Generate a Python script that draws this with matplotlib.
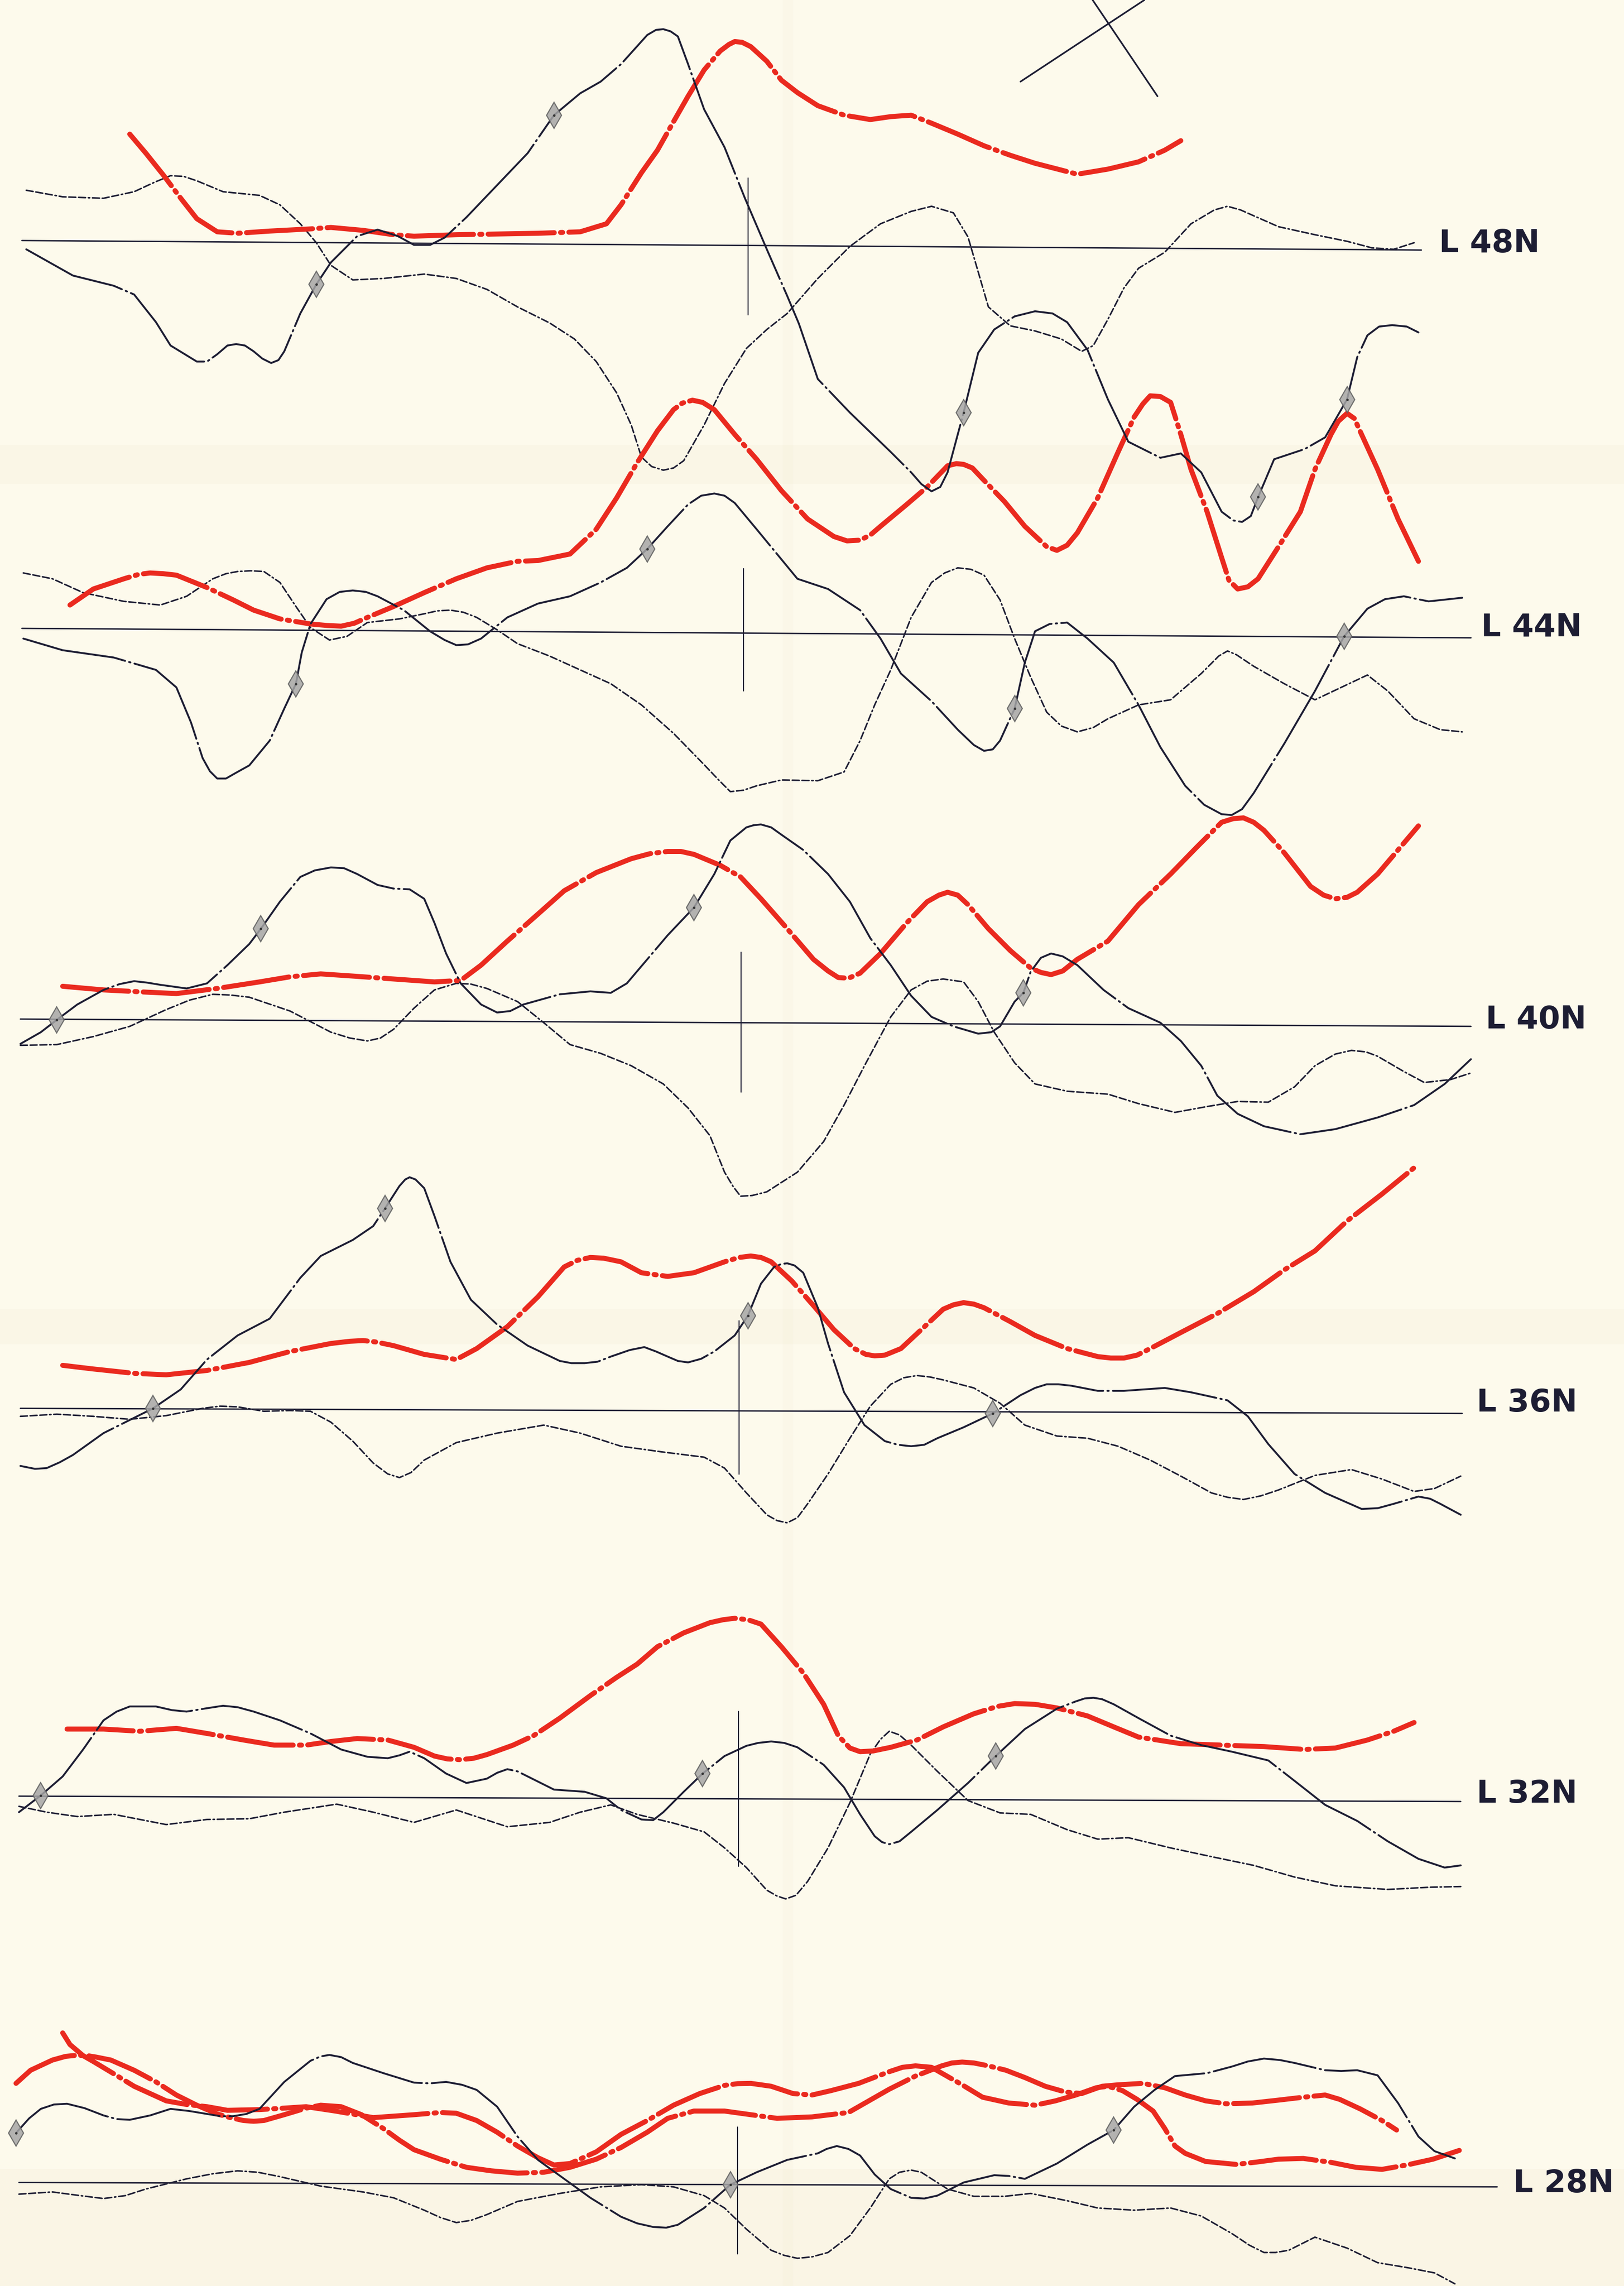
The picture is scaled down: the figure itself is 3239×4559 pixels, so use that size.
import numpy as np
import matplotlib
matplotlib.use("Agg")
import matplotlib.pyplot as plt

plt.rcParams['lines.scale_dashes'] = False
plt.rcParams['lines.dash_capstyle'] = 'round'
plt.rcParams['lines.solid_capstyle'] = 'round'
plt.rcParams['lines.solid_joinstyle'] = 'round'
plt.rcParams['lines.dash_joinstyle'] = 'round'

# ---------------- DATA (x along profile, v = deflection from zero line) ----------------
labels = ['L 48N', 'L 44N', 'L 40N', 'L 36N', 'L 32N', 'L 28N']

# L 48N
l48_solid_x = [18,50,78,92,107,117,135,142,149,156,162,168,174,180,186,191,195,206,217,227,245,259,273,284,295,305,320,341,362,380,398,412,426,444,450,455,460,465,472,483,497,511,526,540,548,561,583,611,625,632,639,645,650,661,671,682,696,710,722,732,746,760,774,796,810,824,838,846,852,858,863,874,895,909,924,931,938,946,955,965,973]
l48_solid_v = [-6,-24,-31,-37,-56,-72,-83,-83,-78,-72,-71,-72,-76,-81,-84,-82,-76,-50,-30,-15,3,7.5,3,-3,-3,2,16,38,60,86,101,109,121,141,144.5,145,143.5,140,121,90,64,29,-6,-38,-57,-95,-118,-145,-159,-167,-172,-169,-159,-118,-77,-61,-52,-48.5,-50,-56,-75,-109,-138,-149,-146,-159,-186,-192,-193,-189,-176,-150,-143,-135,-109,-80,-65,-59,-58,-59,-63]
l48_dash_x = [18,43,71,92,106,117,126,135,153,178,192,206,217,227,242,263,291,313,334,355,377,394,409,423,433,440,447,455,462,469,483,497,512,526,540,561,583,604,625,639,654,664,671,678,693,710,728,742,750,760,771,781,799,817,833,842,851,860,877,902,924,941,956,970]
l48_dash_v = [34.5,30,29,33.5,40,44.5,44,41,33.5,31,24.5,11.5,-1.5,-17,-27,-26,-23,-26,-33.5,-45.5,-56.5,-67.5,-83,-104.5,-126.5,-148.5,-155,-157.5,-156,-151,-126.5,-98,-74,-61,-50,-26,-4,11.5,20,23.5,19,2.5,-21.5,-45.5,-58.5,-62,-67.5,-76,-72,-54,-32.5,-19,-8,11.5,21,23.5,21,17,9.5,4,-0.5,-5,-6,-1.5]
l48_red_x = [89,100,112,124,135,149,163,185,213,227,249,270,284,313,341,369,398,416,426,440,451,462,472,483,494,500,504,509,515,526,536,547,561,579,597,611,625,639,657,675,693,710,739,760,781,799,810]
l48_red_v = [73,60,45,29,15,6,5,6.5,8,9,7,4,3,4,4.5,5,6,11.5,24.5,46.5,62,81.5,99,117,130,134.5,136.5,136,133,123,110,101.5,92.5,86,83,85,86,80.5,73,65,58.5,53,45.5,49,54,62,68.5]
l48_marks_x = [217,380,661,863,924]

# L 44N
l44_solid_x = [16,43,78,107,121,131,139,144,149,155,162,171,185,195,203,207,213,224,233,242,251,259,277,295,305,313,321,330,348,369,391,412,430,444,458,472,481,490,497,504,519,533,547,568,590,604,618,639,657,668,675,681,686,696,703,710,720,732,746,764,781,796,813,826,838,845,852,860,881,902,922,938,950,963,980,1003]
l44_solid_v = [-7,-15,-20,-28.5,-40.5,-64.5,-89,-98,-103,-103,-99,-94,-77,-55,-38,-16.5,3,20,25,26,25,22,12.5,-2,-8,-11.5,-11,-7,7.5,17,22,31.5,41.5,54.5,70,85,91,92.5,91,86,68,51,34,27,12.5,-7,-31,-50,-69.5,-80,-84,-83,-77,-55,-23.5,-2,3,4,-7,-23.5,-52.5,-81.5,-108,-121,-127.5,-128,-124,-113,-79,-43,-5.5,13.5,20,22,18.5,21]
l44_dash_x = [16,36,57,85,110,128,146,155,163,172,181,192,203,213,226,238,252,274,291,300,309,318,327,341,355,377,398,419,440,462,483,493,501,510,519,536,561,579,590,600,611,625,639,648,657,666,675,686,696,707,718,728,739,750,760,781,803,824,836,842,848,860,881,902,920,938,952,970,988,1003]
l44_dash_v = [38,34,24.5,18.5,16,22,34,37.5,39,39.5,39,31.5,15,0.5,-8,-5.5,4,6.5,10,12,12.5,11,7.5,-1,-10.5,-19,-28.5,-38,-52.5,-72,-93.5,-104,-112,-111,-108,-104,-104.5,-98.5,-77,-52.5,-28.5,7.5,31.5,38,41.5,40.5,36.5,19.5,-7,-33.5,-57.5,-67,-71,-68,-62,-52.5,-49,-31,-19,-15.5,-18,-26,-38,-49,-40.5,-32,-43,-62,-69.5,-71]
l44_red_x = [48,64,85,95,103,112,121,142,160,174,192,213,224,234,243,252,270,291,313,334,355,369,391,409,423,437,451,462,468,475,482,490,504,519,536,554,572,581,590,597,604,622,636,650,656,661,667,675,689,703,718,725,732,739,753,767,778,784,789,796,803,810,817,828,838,843,849,856,863,877,892,902,913,918,924,929,934,945,959,973]
l44_red_v = [16,27,34,37,38,37.5,36.5,28,19.5,12.5,6.5,3,2,1.5,3.5,7.5,15,24.5,34,41.5,46,46.5,51,68,89.5,113.5,135.5,150,154.5,156.5,155,150,133,116,94.5,75,63,60,60.5,64,70,85,97,111.5,113,112.5,110,101.5,87,70,56,53.5,57,65.5,89.5,121,145,154,159.5,159,155,133,109,80,48.5,33,27,28.5,34,56,80,109,133,142,147.5,144,133,109,75,46]
l44_marks_x = [203,444,696,922]

# L 40N
l40_solid_x = [14,28,39,53,71,82,92,101,110,128,142,156,171,179,192,206,216,227,236,245,259,270,281,291,298,306,316,330,341,350,359,384,405,419,430,444,458,476,490,501,512,517,522,529,536,551,568,583,597,611,625,639,654,671,680,686,696,702,707,714,721,729,739,757,774,796,810,824,835,849,867,892,916,945,970,991,1009]
l40_solid_v = [-17,-9,-0.5,10,20,24,26,25,23.5,21,24.5,37,51.5,62,80.5,97.5,102,104,103.5,99.5,92,89.5,89,82.5,66,45,24.5,10,4.5,5.5,10,17,19,18,24.5,41,57.5,76.5,99.5,122.5,131.5,133,133.5,131.5,126.5,116,99.5,80.5,55.5,37,16,1.5,-5,-10,-9,-5,12,18,32.5,42,45,43,37,20,7.5,-2.5,-15,-32,-52.5,-65,-73.5,-79,-75.5,-67.5,-59,-44.5,-27.5]
l40_dash_x = [14,39,64,89,114,130,146,158,171,199,227,240,252,261,270,284,298,313,323,334,355,373,391,412,433,455,472,487,497,503,508,516,526,547,565,579,593,611,625,636,647,661,671,682,696,710,732,760,781,806,828,849,870,888,902,916,927,937,945,963,977,995,1009]
l40_dash_v = [-18,-17.5,-12,-5,6.5,13,17,16.5,15,5.5,-9,-13,-15,-13,-7,7.5,20,24.5,24,21,12,-2.5,-17.5,-23.5,-32,-44.5,-61,-80,-105,-115,-121.5,-121,-118.5,-105,-84,-59,-32,1.5,20,26,27.5,25.5,12,-9,-30,-44.5,-49.5,-51.5,-58,-64,-60,-56.5,-57,-46.5,-32,-24,-21.5,-22.5,-25.5,-36,-43.5,-41.5,-37]
l40_red_x = [43,71,100,121,149,178,199,220,242,270,298,316,330,348,369,387,409,433,446,458,467,476,494,508,522,540,558,568,575,582,590,604,622,636,644,650,657,664,678,693,707,714,721,729,739,760,781,803,821,838,846,853,860,867,881,899,908,916,924,931,945,959,973]
l40_red_v = [22.5,20,18.5,17.5,21,25.5,29,31,29.5,27.5,25.5,26.5,37,53.5,72,88,100.5,110,113.5,115,115,113,105.5,97.5,82.5,62,41,33,28.5,28,31.5,45,66,80.5,85,87,85,78.5,62,47,35,32,30.5,33,41,53.5,78.5,99.5,118,135,137.5,138,135,129.5,114,91,85,82.5,83.5,87,99.5,116,132.5]
l40_marks_x = [39,179,476,702]

# L 36N
l36_solid_x = [14,24,32,41,50,71,92,105,124,142,163,185,206,220,242,256,264,274,278,281,285,291,298,309,323,341,362,384,392,401,410,419,432,442,450,458,465,472,481,490,504,513,522,531,536,540,545,551,561,568,579,593,607,616,625,634,643,661,681,700,710,718,726,735,753,771,785,799,817,842,856,870,888,909,934,945,956,973,981,988,1002]
l36_solid_v = [-39.5,-41.5,-41,-37,-32,-17,-6.5,0,13,33.5,50,61.5,89.5,104.5,115.5,125,137,152.5,157,158.5,157,151,132,100.5,74.5,57.5,43,32.5,31,31,32,35.5,40,42,39,35.5,32.5,31.5,34,39,50,63.5,85.5,97,99,99.5,98,93,69,44.5,11,-11.5,-22.5,-25,-26,-25,-20.5,-13,-3.5,9,14,16.5,16.5,15.5,12,12,13,14,11,5.5,-5.5,-24.5,-45,-58,-69,-68.5,-65.5,-60.5,-62,-65.5,-73]
l36_dash_x = [14,39,64,89,114,139,151,163,181,199,213,227,242,256,266,274,282,291,313,341,373,398,426,455,483,497,512,526,533,540,547,554,568,583,597,611,620,629,638,647,668,686,703,725,746,767,789,810,831,842,853,865,877,902,927,948,970,984,1002]
l36_dash_v = [-5.5,-4,-5.5,-7.5,-5,0,1.5,1,-2,-1.5,-2,-9.5,-22.5,-37.5,-45,-47.5,-44,-35.5,-23.5,-17,-11.5,-17,-26,-30,-33.5,-41,-58,-73,-77,-78.5,-75,-65.5,-45,-20.5,1.5,16.5,21,22.5,21.5,19.5,14,3.5,-11.5,-19,-20.5,-26,-35.5,-46.5,-58,-61,-62.5,-60,-56,-46,-42,-48.5,-57,-55,-46.5]
l36_red_x = [43,64,92,114,142,171,199,227,240,249,258,270,291,313,327,348,369,387,396,405,414,426,440,458,476,497,507,515,522,529,543,558,572,586,594,600,607,618,632,647,654,661,668,675,693,710,732,753,762,771,780,789,810,835,860,881,902,924,948,970]
l36_red_v = [29.5,27,24,23,26,31.5,39,44.5,46,46.5,45.5,43,37,33.5,41,56,76.5,97,101.5,103.5,103,100.5,93,90.5,93,100.5,103.5,104.5,103.5,100.5,87.5,70.5,54,41,37,36,36.5,41,54,68,71,72.5,71.5,69,59.5,50,41,35.5,34.5,34.5,36.5,41,52,65,80,95,108,128.5,147,165]
l36_marks_x = [105,264,513,681]

# L 32N
l32_solid_x = [13,28,43,57,71,80,89,107,118,128,140,153,163,174,192,213,234,252,266,274,281,291,306,320,334,341,348,355,362,380,401,416,426,440,448,455,469,482,497,512,520,529,538,547,565,579,590,600,605,610,617,625,643,664,683,703,725,738,744,750,756,764,781,803,824,845,870,888,909,931,952,973,991,1002]
l32_solid_v = [-11,0.5,13.5,32,52,58,61.5,61.5,59,58,60,62,61,58,52,43,32,27,26,28,30.5,26,15.5,9,12,16,18.5,17,13.5,4.5,3,-1.5,-9.5,-16,-16.5,-11,3,15.5,27.5,34.5,36.5,37.5,36.5,33.5,21.5,6,-12.5,-27.5,-31.5,-33,-31,-24.5,-9.5,9,27.5,46,60,65,67,67.5,66.5,63,53.5,41.5,35,30.5,24.5,10.5,-6,-17,-31,-43,-49,-47.5]
l32_dash_x = [13,32,53,78,114,142,171,195,231,256,284,313,348,377,398,419,437,462,483,497,512,526,533,539,546,554,568,583,597,604,610,617,625,643,664,686,707,732,753,774,803,831,860,888,916,952,980,1002]
l32_dash_v = [-7,-11,-14,-12.5,-19.5,-16,-15.5,-11,-5.5,-11,-18,-9.5,-21,-18,-11,-6,-12.5,-18.5,-24.5,-35.5,-49,-64.5,-68.5,-70.5,-68,-58.5,-35.5,-4.5,29,39,44.5,42,35,17,-3,-11.5,-12.5,-23,-29.5,-28.5,-35.5,-41.5,-47.5,-55.5,-61.5,-64,-62.5,-62]
l32_red_x = [46,71,96,121,142,167,188,210,227,245,266,284,298,307,316,325,334,352,366,384,405,423,437,451,469,487,496,504,513,522,536,551,565,575,583,590,599,611,629,647,668,684,696,710,725,746,764,781,810,838,867,895,916,938,956,970]
l32_red_v = [46,46,44.5,46.5,43,38.5,35,35,37.5,39.5,38.5,33.5,27.5,25.5,25,26,28.5,35,41.5,53.5,69,81.5,90.5,102.5,112,119,121,122,121,118,102.5,84.5,63,41.5,33,30.5,31,33.5,38.5,47.5,56.5,61.5,63.5,63,60.5,55,47.5,40.5,36,35,34,32,33,38.5,44.5,50.5]
l32_marks_x = [28,482,683]

# L 28N
l28_solid_x = [11,20,28,37,46,58,71,80,89,103,117,130,142,151,160,169,178,195,213,220,226,234,242,263,284,295,306,317,327,341,355,369,387,405,426,437,448,457,465,483,501,519,540,561,567,574,582,590,600,611,625,634,643,661,682,692,703,725,746,764,778,792,806,828,845,856,867,878,888,909,920,931,945,959,973,984,998]
l28_solid_v = [34,44,50.5,53.5,54,51,46,43.5,43,46,50.5,49,47,45.5,45.5,47,50.5,69,83.5,86.5,87.5,86,82,75,68.5,68,69,67,63.5,52,31.5,15.5,2.5,-10.5,-23.5,-28,-30.5,-31,-29,-17.5,-1.5,7,15.5,20,23,25,23,18.5,5.5,-4.5,-10.5,-11,-9,0,5,4.5,2.5,13,26,36,52,63.5,73,75,79.5,83,85,84,82,77,76.5,77,73.5,54.5,31.5,21.5,16.5]
l28_dash_x = [13,36,55,71,86,100,128,146,163,177,192,220,249,270,291,302,313,323,334,355,384,412,440,462,483,497,512,529,538,547,557,568,583,597,610,617,625,632,639,650,668,689,707,732,753,778,803,824,845,857,867,875,884,902,924,945,966,984,998]
l28_dash_v = [-8,-6.5,-9,-11,-9,-4.5,2.5,6,8,7,4,-2.5,-6.5,-10.5,-19,-24,-27.5,-26,-22,-13,-7.5,-3,-1.5,-3,-9,-17.5,-32,-46.5,-50,-52,-51,-48,-36.5,-17.5,2.5,7,8.5,7,2.5,-4.5,-9.5,-9.5,-7.5,-12.5,-17.5,-19,-17.5,-23,-35,-43,-48,-48,-46.5,-37.5,-45,-55,-58.5,-62,-69.5]
l28_redA_x = [11,21,36,45,53,60,66,76,92,107,121,135,149,158,167,174,181,195,210,220,234,248,263,274,284,302,320,337,355,373,391,409,426,444,458,476,497,515,533,557,582,596,610,628,646,653,660,668,678,690,703,717,731,742,756,767,784,799,813,827,841,859,877,894,909,919,933,948,958]
l28_redA_v = [68,77,84,86.5,87.3,87,86,84,77,69,60,53,47,44.5,42.5,42,42.5,46.5,51,53,52,46.5,37,29,22.5,16,10.4,8,6.4,7,10.4,16,24,34.5,44,49,49,46.5,44,45,48,56,64,73,80,82,82.6,82,80,77,72,66,62,61,66,67,68,65,60,56,54,54.5,56.5,58.5,60,57,50.5,42.5,36]
l28_redB_x = [43,48,57,64,78,92,103,114,128,142,156,178,195,210,230,256,270,284,302,313,327,341,355,369,380,391,409,426,444,462,480,497,506,515,529,544,557,570,589,610,619,628,639,660,674,692,710,724,738,752,760,770,780,791,799,806,813,827,848,862,877,894,912,930,948,965,983,1001]
l28_redB_v = [102.6,94.6,87,83,74.6,66,61,56,53.5,52,49.5,50,51,52,49,44.5,45.5,46.5,48,47.5,42.5,34.5,25,17,12,13,21,33,42.5,53,61,66.6,67.8,68,66,61,60,63,68,76,79,80,79,67,58.5,54.5,53,56,60,65,66,63,57,49,37,25,20,14.4,12.4,14,16,16.5,14,10.4,9,12,16,22]
l28_marks_x = [11,501,764]

# ---------------- LAYOUT ----------------
W, H = 1114, 1568
layout = {
    'L 48N': dict(base=165, x0=15, x1=975, tilt=6.5, lx=987, ly=167, cx=513, ct=122, cb=216),
    'L 44N': dict(base=431, x0=15, x1=1009, tilt=6.5, lx=1016, ly=430.5, cx=510, ct=390, cb=474),
    'L 40N': dict(base=699, x0=14, x1=1009, tilt=5, lx=1019, ly=699.5, cx=508.5, ct=653, cb=749),
    'L 36N': dict(base=966, x0=14, x1=1003, tilt=3.5, lx=1013, ly=962.5, cx=507, ct=906, cb=1011),
    'L 32N': dict(base=1232, x0=13, x1=1002, tilt=3.7, lx=1013, ly=1230.5, cx=506.5, ct=1174, cb=1280),
    'L 28N': dict(base=1497, x0=13, x1=1027, tilt=3, lx=1038, ly=1498, cx=506, ct=1459, cb=1546),
}

series = {
    'L 48N': ([(l48_solid_x, l48_solid_v)], [(l48_dash_x, l48_dash_v)], [(l48_red_x, l48_red_v)], l48_marks_x),
    'L 44N': ([(l44_solid_x, l44_solid_v)], [(l44_dash_x, l44_dash_v)], [(l44_red_x, l44_red_v)], l44_marks_x),
    'L 40N': ([(l40_solid_x, l40_solid_v)], [(l40_dash_x, l40_dash_v)], [(l40_red_x, l40_red_v)], l40_marks_x),
    'L 36N': ([(l36_solid_x, l36_solid_v)], [(l36_dash_x, l36_dash_v)], [(l36_red_x, l36_red_v)], l36_marks_x),
    'L 32N': ([(l32_solid_x, l32_solid_v)], [(l32_dash_x, l32_dash_v)], [(l32_red_x, l32_red_v)], l32_marks_x),
    'L 28N': ([(l28_solid_x, l28_solid_v)], [(l28_dash_x, l28_dash_v)],
              [(l28_redA_x, l28_redA_v), (l28_redB_x, l28_redB_v)], l28_marks_x),
}

INK = '#1d1d33'
RED = '#ea2a1f'
PAPER = '#fdfaec'

fig = plt.figure(figsize=(32.39, 45.59), dpi=100)
fig.patch.set_facecolor(PAPER)
ax = fig.add_axes([0, 0, 1, 1])
ax.set_facecolor(PAPER)
ax.set_xlim(0, W)
ax.set_ylim(H, 0)
ax.axis('off')

# paper folds / discolouration
for (y0, y1, a) in [(305, 332, 0.07), (898, 922, 0.07), (1488, 1568, 0.08)]:
    ax.axhspan(y0, y1, color='#d9c49a', alpha=a, lw=0, zorder=0)
ax.axvspan(537, 544, color='#e6d6b0', alpha=0.06, lw=0, zorder=0)

# orientation cross at top
ax.plot([700, 785], [56, 0], color=INK, lw=2.4, zorder=3)
ax.plot([749.5, 794], [0, 66], color=INK, lw=2.4, zorder=3)

for name in labels:
    L = layout[name]
    b = L['base']
    ax.plot([L['x0'], L['x1']], [b, b + L['tilt']], color=INK, lw=2.0, zorder=2)
    ax.plot([L['cx'], L['cx']], [L['ct'], L['cb']], color=INK, lw=1.5, zorder=2)
    ax.text(L['lx'], L['ly'], name, fontsize=45, fontweight='bold', family='DejaVu Sans',
            color=INK, ha='left', va='center', zorder=5)

    solids, dashes, reds, marks = series[name]
    for xs, vs in dashes:
        ax.plot(xs, b - np.asarray(vs), color=INK, lw=2.2,
                dashes=(10, 4, 10, 4, 10, 4, 2, 4), zorder=3)
    for xs, vs in reds:
        ax.plot(xs, b - np.asarray(vs), color=RED, lw=7.2,
                dashes=(95, 9, 3, 9), zorder=4)
    for xs, vs in solids:
        yy = b - np.asarray(vs)
        ax.plot(xs, yy, color=INK, lw=2.7, dashes=(150, 6, 2, 6), zorder=5)
        my = np.interp(marks, xs, yy)
        ax.plot(marks, my, linestyle='none', marker='d', ms=26, mfc='#a6a6a6',
                mec='#5e5e5e', mew=1.6, alpha=0.85, zorder=6)
        ax.plot(marks, my, linestyle='none', marker='o', ms=3.5, mfc='#333333',
                mec='none', zorder=7)

fig.savefig('out.png', dpi=100, facecolor=PAPER)
